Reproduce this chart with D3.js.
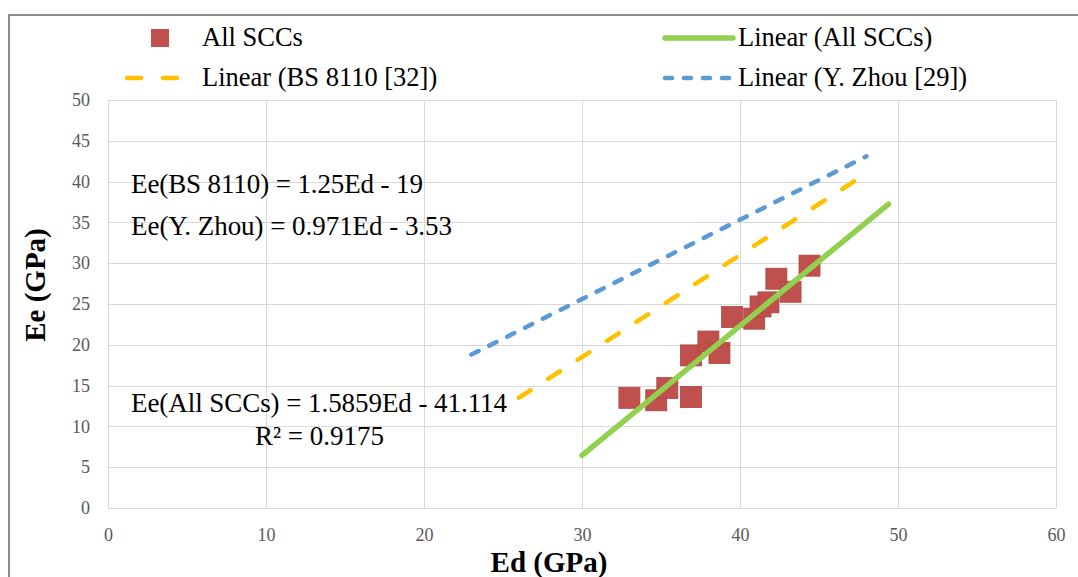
<!DOCTYPE html>
<html><head><meta charset="utf-8">
<script src="https://cdn.jsdelivr.net/npm/d3@7"></script>
<style>body{margin:0;background:#fff}svg{display:block}</style>
</head><body>
<svg id="c" width="1078" height="577"></svg>
<script>
const edValues = [33.0, 34.7, 35.4, 36.9, 36.9, 38.0, 38.7, 39.5, 40.9, 41.3, 41.8, 42.3, 43.2, 44.4];
const eeValues = [13.5, 13.2, 14.7, 13.6, 18.7, 20.4, 19.0, 23.4, 23.2, 24.7, 25.2, 28.1, 26.5, 29.7];
const xTicks = [0, 10, 20, 30, 40, 50, 60];
const yTicks = [0, 5, 10, 15, 20, 25, 30, 35, 40, 45, 50];
const lineAllSCCs = [[30, 6.46], [49.4, 37.23]];
const lineBS8110 = [[26, 13.5], [48, 41]];
const lineZhou = [[23, 18.8], [48, 43.1]];
const legendLabels = ["All SCCs", "Linear (All SCCs)", "Linear (BS 8110 [32])", "Linear (Y. Zhou [29])"];
const eqTexts = ["Ee(BS 8110) = 1.25Ed - 19", "Ee(Y. Zhou) = 0.971Ed - 3.53", "Ee(All SCCs) = 1.5859Ed - 41.114", "R² = 0.9175"];

const svg = d3.select("#c");
const serif = "'Liberation Serif','Times New Roman',serif";
const x = d3.scaleLinear().domain([0, 60]).range([108, 1056]);
const y = d3.scaleLinear().domain([0, 50]).range([508, 100]);

// outer frame
svg.append("line").attr("x1", 9).attr("x2", 1078).attr("y1", 15).attr("y2", 15).attr("stroke", "#8c8c8c").attr("stroke-width", 2);
svg.append("line").attr("x1", 9).attr("x2", 9).attr("y1", 14).attr("y2", 577).attr("stroke", "#8c8c8c").attr("stroke-width", 2);

// grid
const g = svg.append("g");
g.selectAll("line.h").data(yTicks).join("line")
  .attr("x1", x(0)).attr("x2", x(60)).attr("y1", d => Math.round(y(d)) + 0.5).attr("y2", d => Math.round(y(d)) + 0.5)
  .attr("stroke", "#d9d9d9").attr("stroke-width", 1);
g.selectAll("line.v").data(xTicks).join("line")
  .attr("y1", y(0)).attr("y2", y(50)).attr("x1", d => Math.round(x(d)) + 0.5).attr("x2", d => Math.round(x(d)) + 0.5)
  .attr("stroke", "#d9d9d9").attr("stroke-width", 1);

// axes labels via d3 axes
const xAxis = svg.append("g").attr("transform", `translate(0,${y(0)})`)
  .call(d3.axisBottom(x).tickValues(xTicks).tickSize(0).tickPadding(20));
const yAxis = svg.append("g").attr("transform", `translate(${x(0)},0)`)
  .call(d3.axisLeft(y).tickValues(yTicks).tickSize(0).tickPadding(18));
[xAxis, yAxis].forEach(a => {
  a.select(".domain").remove();
  a.selectAll("text").style("font-family", serif).style("font-size", "18px").attr("fill", "#595959");
});

svg.append("text").attr("x", 549).attr("y", 572).attr("text-anchor", "middle")
  .style("font-family", serif).attr("font-weight", "bold").style("font-size", "29px").text("Ed (GPa)");
svg.append("text").attr("transform", "translate(45,285) rotate(-90)").attr("text-anchor", "middle")
  .style("font-family", serif).attr("font-weight", "bold").style("font-size", "29px").text("Ee (GPa)");

// trend lines
const line = d3.line().x(d => x(d[0])).y(d => y(d[1]));
svg.append("path").attr("d", line(lineZhou)).attr("fill", "none").attr("stroke", "#5b9bd5")
  .attr("stroke-width", 4.5).attr("stroke-dasharray", "8,12").attr("stroke-linecap", "round");
svg.append("path").attr("d", line(lineBS8110)).attr("fill", "none").attr("stroke", "#ffc000")
  .attr("stroke-width", 4.5).attr("stroke-dasharray", "14,21").attr("stroke-linecap", "round");

// points
const sq = 21;
svg.selectAll("rect.pt").data(edValues.map((d, i) => [d, eeValues[i]])).join("rect")
  .attr("x", d => x(d[0]) - sq / 2).attr("y", d => y(d[1]) - sq / 2)
  .attr("width", sq).attr("height", sq).attr("fill", "#c0504d").attr("stroke", "#b0453f").attr("stroke-width", 0.8);

svg.append("path").attr("d", line(lineAllSCCs)).attr("fill", "none").attr("stroke", "#92d050")
  .attr("stroke-width", 5.5).attr("stroke-linecap", "round");

// equations
const eq = svg.append("g").style("font-family", serif).style("font-size", "27px").attr("fill", "#000");
eq.append("text").attr("x", 131).attr("y", 193).attr("textLength", 292).attr("lengthAdjust", "spacing").text(eqTexts[0]);
eq.append("text").attr("x", 131).attr("y", 235).attr("textLength", 321).attr("lengthAdjust", "spacing").text(eqTexts[1]);
eq.append("text").attr("x", 131).attr("y", 412).attr("textLength", 376).attr("lengthAdjust", "spacing").text(eqTexts[2]);
eq.append("text").attr("x", 255).attr("y", 445).attr("textLength", 129).attr("lengthAdjust", "spacing").text(eqTexts[3]);

// legend
const lg = svg.append("g").style("font-family", serif).style("font-size", "26.5px").attr("fill", "#000");
lg.append("rect").attr("x", 151).attr("y", 29).attr("width", 18).attr("height", 18).attr("fill", "#c0504d");
lg.append("text").attr("x", 202).attr("y", 46).text(legendLabels[0]);
lg.append("line").attr("x1", 665).attr("x2", 733).attr("y1", 38).attr("y2", 38).attr("stroke", "#92d050").attr("stroke-width", 5.5).attr("stroke-linecap", "round");
lg.append("text").attr("x", 738).attr("y", 46).text(legendLabels[1]);
lg.append("line").attr("x1", 127).attr("x2", 180).attr("y1", 78).attr("y2", 78).attr("stroke", "#ffc000").attr("stroke-width", 4.5).attr("stroke-dasharray", "14,22").attr("stroke-linecap", "round");
lg.append("text").attr("x", 202).attr("y", 86).text(legendLabels[2]);
lg.append("line").attr("x1", 665).attr("x2", 733).attr("y1", 78).attr("y2", 78).attr("stroke", "#5b9bd5").attr("stroke-width", 4.5).attr("stroke-dasharray", "7,12").attr("stroke-linecap", "round");
lg.append("text").attr("x", 738).attr("y", 86).text(legendLabels[3]);
</script>
</body></html>
